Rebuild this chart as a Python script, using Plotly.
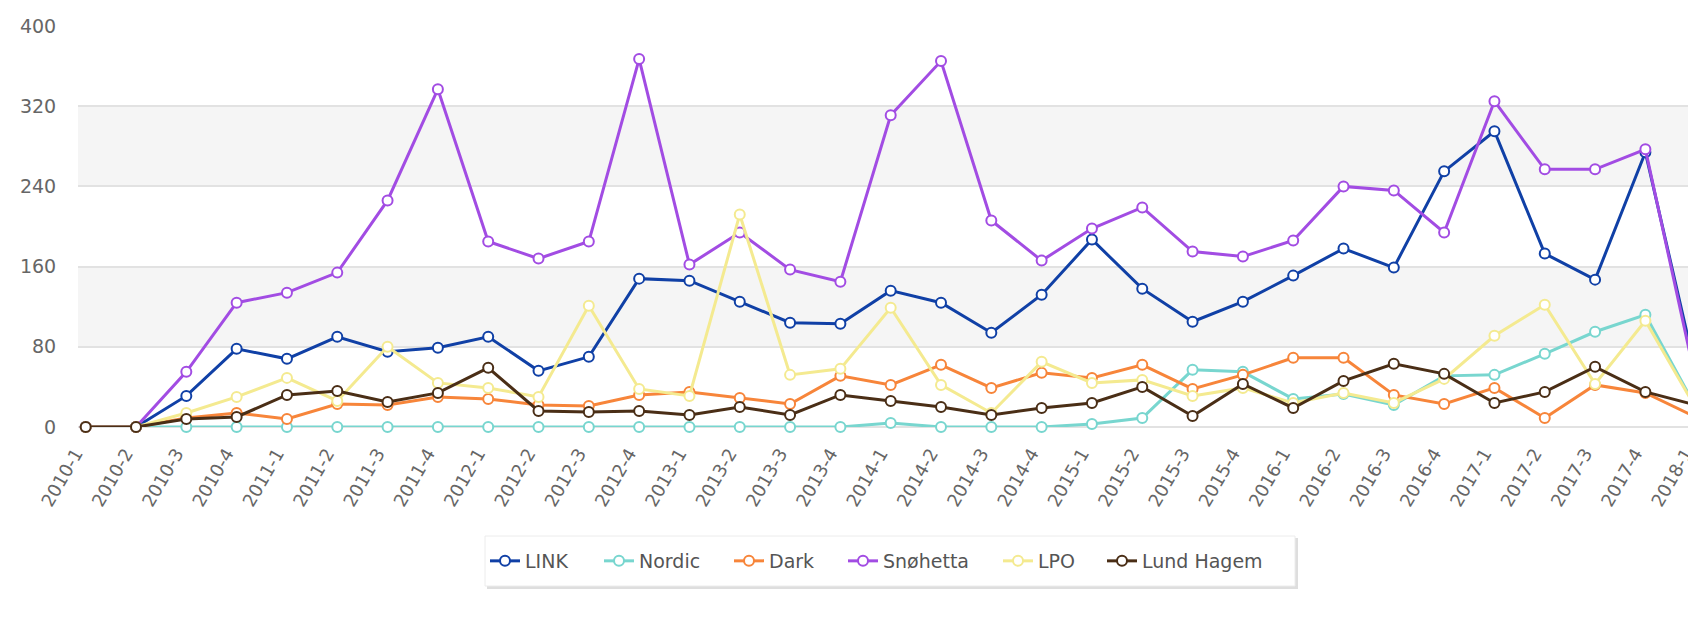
import plotly.graph_objects as go

categories = ["2010-1", "2010-2", "2010-3", "2010-4",
              "2011-1", "2011-2", "2011-3", "2011-4",
              "2012-1", "2012-2", "2012-3", "2012-4",
              "2013-1", "2013-2", "2013-3", "2013-4",
              "2014-1", "2014-2", "2014-3", "2014-4",
              "2015-1", "2015-2", "2015-3", "2015-4",
              "2016-1", "2016-2", "2016-3", "2016-4",
              "2017-1", "2017-2", "2017-3", "2017-4",
              "2018-1"]

link = [0, 0, 31, 78, 68, 90, 75, 79, 90, 56, 70, 148, 146, 125, 104, 103,
        136, 124, 94, 132, 187, 138, 105, 125, 151, 178, 159, 255, 295, 173, 147, 274, 56]
nordic = [0, 0, 0, 0, 0, 0, 0, 0, 0, 0, 0, 0, 0, 0, 0, 0,
          4, 0, 0, 0, 3, 9, 57, 55, 28, 33, 22, 51, 52, 73, 95, 112, 20]
dark = [0, 0, 9, 14, 8, 23, 22, 30, 28, 22, 21, 32, 35, 29, 23, 51,
        42, 62, 39, 54, 49, 62, 38, 52, 69, 69, 32, 23, 39, 9, 42, 34, 10]
snohetta = [0, 0, 55, 124, 134, 154, 226, 337, 185, 168, 185, 367, 162, 194, 157, 145,
            311, 365, 206, 166, 198, 219, 175, 170, 186, 240, 236, 194, 325, 257, 257, 277, 47]
lpo = [0, 0, 14, 30, 49, 26, 80, 44, 39, 30, 121, 38, 31, 212, 52, 58,
       119, 42, 14, 65, 44, 47, 31, 39, 24, 34, 24, 48, 91, 122, 43, 106, 19]
lund_hagem = [0, 0, 8, 10, 32, 36, 25, 34, 59, 16, 15, 16, 12, 20, 12, 32,
              26, 20, 12, 19, 24, 40, 11, 43, 19, 46, 63, 53, 24, 35, 60, 35, 22]

series_names = ["LINK", "Nordic", "Dark", "Snøhetta", "LPO", "Lund Hagem"]
series_values = [link, nordic, dark, snohetta, lpo, lund_hagem]
series_colors = ["#1040a6", "#78d6cf", "#f7853a", "#a24ce3", "#f4ea90", "#4a2e16"]

y_ticks = [0, 80, 160, 240, 320, 400]

# figure geometry (pixels)
W, H = 1696, 617
L, R, T, B = 70, 0, 18, 198
PW = W - L - R
PH = H - T - B
PLOT_BOTTOM = H - B


def px_x(px):
    return (px - L) / PW


def px_y(py):
    return (PLOT_BOTTOM - py) / PH


# legend symbol centres (pixels)
legend_sym_x = [502, 616, 746, 860, 1015, 1119]
legend_y_px = 553

fig = go.Figure()
for i, (name, vals, col) in enumerate(zip(series_names, series_values, series_colors)):
    lg = "legend" if i == 0 else f"legend{i + 1}"
    fig.add_trace(go.Scatter(
        x=categories, y=vals, name=name, mode="lines+markers",
        line=dict(color=col, width=3),
        marker=dict(symbol="circle", size=10, color="white",
                    line=dict(color=col, width=2)),
        cliponaxis=False,
        legend=lg,
        showlegend=True,
    ))

layout_legends = {}
for i in range(len(series_names)):
    key = "legend" if i == 0 else f"legend{i + 1}"
    layout_legends[key] = dict(
        x=px_x(legend_sym_x[i] - 25), xanchor="left",
        y=px_y(legend_y_px), yanchor="middle",
        orientation="h", bgcolor="rgba(0,0,0,0)", borderwidth=0,
        font=dict(family="DejaVu Sans", size=19, color="#555555"),
        itemwidth=30,
    )

shapes = []
# alternate grid bands
for y0, y1 in [(80, 160), (240, 320)]:
    shapes.append(dict(type="rect", xref="paper", yref="y", x0=0, x1=1, y0=y0, y1=y1,
                       fillcolor="#f5f5f5", line=dict(width=0), layer="below"))
# legend box shadow + box
shapes.append(dict(type="rect", xref="paper", yref="paper",
                   x0=px_x(479), x1=px_x(1290), y0=px_y(581), y1=px_y(530),
                   fillcolor="rgba(0,0,0,0.13)", line=dict(width=0), layer="above"))
shapes.append(dict(type="rect", xref="paper", yref="paper",
                   x0=px_x(477), x1=px_x(1287), y0=px_y(578), y1=px_y(528),
                   fillcolor="white", line=dict(color="#ececec", width=1), layer="above"))
# second box below
shapes.append(dict(type="rect", xref="paper", yref="paper",
                   x0=px_x(468), x1=px_x(1294), y0=px_y(640), y1=px_y(611),
                   fillcolor="white", line=dict(color="#dddddd", width=1), layer="above"))

fig.update_layout(
    width=W, height=H,
    margin=dict(l=L, r=R, t=T, b=B, pad=0, autoexpand=False),
    paper_bgcolor="white", plot_bgcolor="white",
    font=dict(family="DejaVu Sans", color="#666666"),
    showlegend=True,
    shapes=shapes,
    **layout_legends,
)

fig.update_xaxes(
    type="category", categoryorder="array", categoryarray=categories,
    range=[-0.153, 32.165], automargin=False,
    showgrid=False, showline=False, zeroline=False,
    tickangle=-60, ticks="outside", ticklen=8, tickcolor="rgba(0,0,0,0)",
    ticklabelshift=-10,
    tickfont=dict(family="DejaVu Sans", size=18, color="#666666"),
)
fig.update_yaxes(
    range=[0, 400], tickvals=y_ticks, automargin=False,
    showgrid=True, gridcolor="#e2e2e2", gridwidth=2,
    zeroline=True, zerolinecolor="#e2e2e2", zerolinewidth=2,
    showline=False,
    ticks="outside", ticklen=17, tickcolor="rgba(0,0,0,0)",
    tickfont=dict(family="DejaVu Sans", size=19, color="#666666"),
)

fig.write_html("out.html")
